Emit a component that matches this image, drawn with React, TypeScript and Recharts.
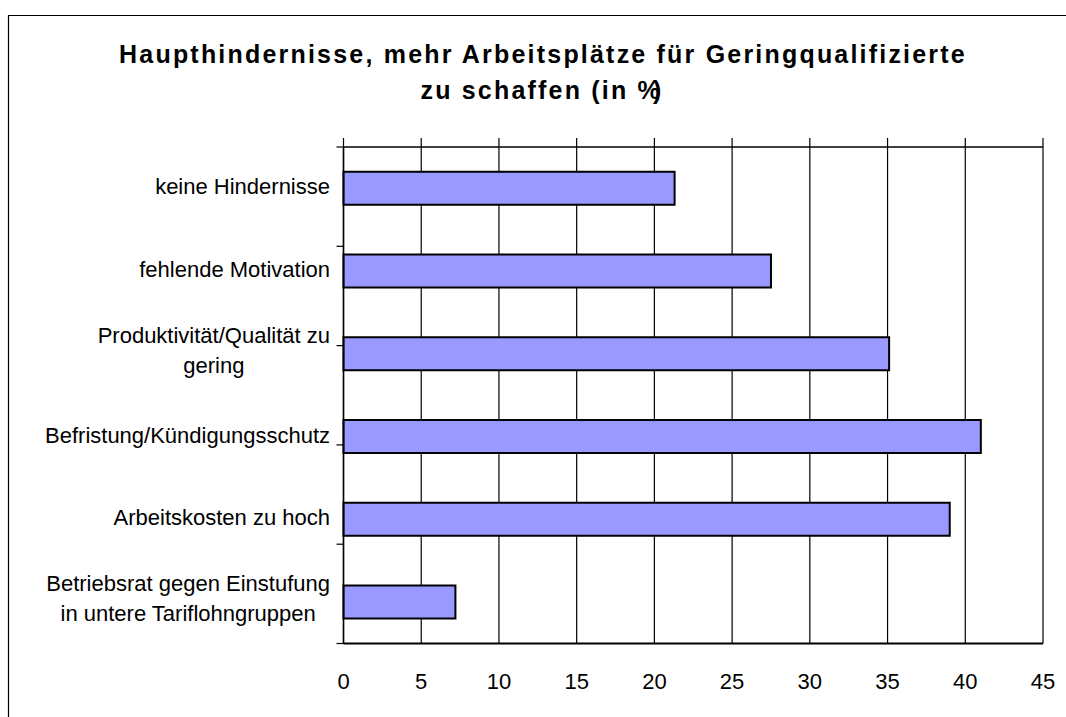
import React from "react";
import { BarChart, Bar, XAxis, YAxis, CartesianGrid } from "recharts";

const categories = [
  "keine Hindernisse",
  "fehlende Motivation",
  "Produktivität/Qualität zu\ngering",
  "Befristung/Kündigungsschutz",
  "Arbeitskosten zu hoch",
  "Betriebsrat gegen Einstufung\nin untere Tariflohngruppen",
];
const shares = [21.3, 27.5, 35.1, 41.0, 39.0, 7.2];
const xTicks = [0, 5, 10, 15, 20, 25, 30, 35, 40, 45];
const boundaryTicks = [0, 1, 2, 3, 4, 5, 6];
const titleLines = [
  "Haupthindernisse, mehr Arbeitsplätze für Geringqualifizierte",
  "zu schaffen (in %)",
];

const FONT = '"Liberation Sans", Arial, sans-serif';

const data = categories.map((name, i) => ({ name, value: shares[i] }));

let ctx: CanvasRenderingContext2D | null = null;
function textWidth(s: string): number {
  if (!ctx) ctx = document.createElement("canvas").getContext("2d");
  if (!ctx) return s.length * 11;
  ctx.font = `22px "Liberation Sans", Arial, sans-serif`;
  return ctx.measureText(s).width;
}

// Excel-style wrapped label: lines centred on each other, block right-aligned
function CategoryTick({ x, y, payload }: any) {
  const lines: string[] = String(payload.value).split("\n");
  const widest = Math.max(...lines.map(textWidth));
  const cx = x - widest / 2;
  const lineHeight = 30;
  const first = y + 6 - (lines.length - 1) * 17;
  return (
    <text textAnchor="middle" fontFamily={FONT} fontSize={22} fill="#000">
      {lines.map((l, i) => (
        <tspan key={i} x={cx} y={first + i * lineHeight}>
          {l}
        </tspan>
      ))}
    </text>
  );
}

// tick marks only, no label
function NoLabel() {
  return <g />;
}

export default function App() {
  const last = titleLines[1];
  return (
    <div
      style={{
        position: "fixed",
        left: 0,
        top: 0,
        width: 1066,
        height: 717,
        overflow: "hidden",
        background: "#fff",
      }}
    >
      <BarChart
        width={1066}
        height={717}
        data={data}
        layout="vertical"
        barCategoryGap="30%"
        margin={{ top: 146, right: 23, bottom: 72.5, left: 0 }}
      >
        {/* grid starts 9px above the plot so the lines poke out like Excel's ticks */}
        <CartesianGrid
          xAxisId="b"
          yAxisId="c"
          y={138}
          height={505.5}
          horizontal={false}
          stroke="#000"
          strokeWidth={1.2}
        />
        <XAxis
          xAxisId="b"
          type="number"
          domain={[0, 45]}
          ticks={xTicks}
          height={1}
          tickSize={0}
          tickMargin={30}
          tickLine={false}
          axisLine={{ stroke: "#000", strokeWidth: 2 }}
          tick={{ fill: "#000", fontSize: 22, fontFamily: FONT }}
        />
        <XAxis
          xAxisId="t"
          orientation="top"
          type="number"
          domain={[0, 45]}
          ticks={xTicks}
          height={1}
          tickSize={9}
          tick={<NoLabel />}
          tickLine={{ stroke: "#000", strokeWidth: 1.2 }}
          axisLine={{ stroke: "#000", strokeWidth: 1.5 }}
        />
        <YAxis
          yAxisId="c"
          type="category"
          dataKey="name"
          width={342.5}
          tickSize={0}
          tickMargin={12.5}
          tickLine={false}
          axisLine={false}
          tick={<CategoryTick />}
        />
        <YAxis
          yAxisId="a"
          type="number"
          domain={[0, 6]}
          ticks={boundaryTicks}
          width={1}
          tickSize={7}
          tick={<NoLabel />}
          tickLine={{ stroke: "#000", strokeWidth: 1.2 }}
          axisLine={{ stroke: "#000", strokeWidth: 1.5 }}
        />
        <Bar
          xAxisId="b"
          yAxisId="c"
          dataKey="value"
          fill="#9999FF"
          stroke="#000"
          strokeWidth={2}
          isAnimationActive={false}
        />
      </BarChart>
      <svg
        width={1066}
        height={717}
        style={{ position: "absolute", left: 0, top: 0, pointerEvents: "none" }}
      >
        <path d="M8.5 717 V15.5 H1066" fill="none" stroke="#000" strokeWidth={1.2} />
        <text
          x={543}
          y={63}
          textAnchor="middle"
          fontFamily={FONT}
          fontWeight="bold"
          fontSize={25}
          letterSpacing={2.2}
          fill="#000"
        >
          {titleLines[0]}
        </text>
        <text
          x={542}
          y={99}
          textAnchor="middle"
          fontFamily={FONT}
          fontWeight="bold"
          fontSize={25}
          letterSpacing={2.2}
          fill="#000"
        >
          {last.slice(0, -1)}
          <tspan dx={-9}>{last.slice(-1)}</tspan>
        </text>
      </svg>
    </div>
  );
}
